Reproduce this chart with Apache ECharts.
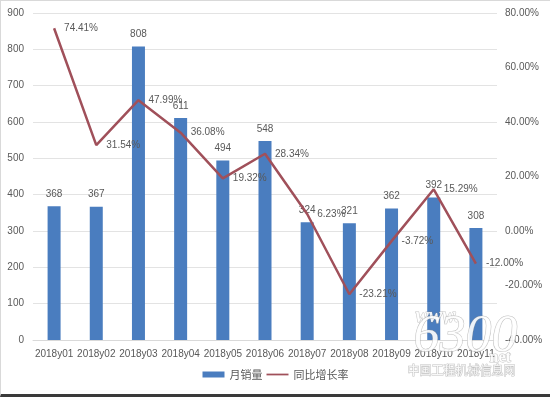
<!DOCTYPE html>
<html>
<head>
<meta charset="utf-8">
<script src="https://cdn.jsdelivr.net/npm/echarts@6/dist/echarts.min.js"></script>
<style>
  html, body { margin: 0; padding: 0; background: #fff; }
  #chart { width: 550px; height: 397px; box-sizing: border-box; border-top: 1px solid #d9d9d9; border-left: 1px solid #d9d9d9; border-bottom: 3px solid #3a3a3a; }
</style>
</head>
<body>
<div id="chart"></div>
<script>
// 月份
const months = ['2018y01', '2018y02', '2018y03', '2018y04', '2018y05', '2018y06',
  '2018y07', '2018y08', '2018y09', '2018y10', '2018y11']
// 月销量
const sales = [368, 367, 808, 611, 494, 548, 324, 321, 362, 392, 308]
// 同比增长率 (%)
const growth = [74.41, 31.54, 47.99, 36.08, 19.32, 28.34, 6.23, -23.21, -3.72, 15.29, -12.00]

const textColor = '#595959'
const font = 'Liberation Sans, Arial, sans-serif'

const chart = echarts.init(document.getElementById('chart'))
chart.setOption({
  animation: false,
  textStyle: { fontFamily: font },
  grid: { left: 32, right: 53, top: 12, bottom: 54 },
  legend: {
    bottom: 9,
    left: 'center',
    itemGap: 4,
    itemWidth: 22,
    itemHeight: 6,
    textStyle: { color: textColor, fontSize: 11, fontFamily: 'Noto Sans CJK SC' },
    data: [
      { name: '月销量', icon: 'rect' },
      { name: '同比增长率', icon: 'path://M0,0 L25,0 L25,2 L0,2 Z' }
    ]
  },
  xAxis: {
    type: 'category',
    data: months,
    axisLine: { lineStyle: { color: '#d9d9d9' } },
    axisTick: { show: false },
    axisLabel: { color: textColor, fontSize: 10, margin: 9, interval: 0 }
  },
  yAxis: [
    {
      type: 'value', min: 0, max: 900, interval: 100,
      axisLine: { show: false }, axisTick: { show: false },
      axisLabel: { color: textColor, fontSize: 10, margin: 9 },
      splitLine: { lineStyle: { color: '#e3e3e3' } }
    },
    {
      type: 'value', min: -40, max: 80, interval: 20,
      axisLine: { show: false }, axisTick: { show: false },
      splitLine: { show: false },
      axisLabel: { color: textColor, fontSize: 10, margin: 8, formatter: v => v.toFixed(2) + '%' }
    }
  ],
  series: [
    {
      name: '月销量', type: 'bar', data: sales, barWidth: 13,
      itemStyle: { color: '#4a7dbf' },
      label: { show: true, position: 'top', color: textColor, fontSize: 10, distance: 7 }
    },
    {
      name: '同比增长率', type: 'line', yAxisIndex: 1, data: growth,
      symbol: 'circle', symbolSize: 0, showSymbol: true,
      lineStyle: { color: '#a0505a', width: 2.5 },
      itemStyle: { color: '#a0505a' },
      label: { show: true, position: 'right', color: textColor, fontSize: 10, distance: 10,
        formatter: p => p.value.toFixed(2) + '%' }
    }
  ],
  graphic: [
    { type: 'text', left: 414, top: 305, z: 100, style: { text: 'www.', fill: 'rgba(255,255,255,0.9)', font: 'bold italic 20px Liberation Serif', stroke: 'rgba(140,140,140,0.5)', lineWidth: 1 } },
    { type: 'text', left: 412, top: 310, z: 100, style: { text: '6300', fill: 'rgba(255,255,255,0.9)', font: 'italic 52px Liberation Serif', stroke: 'rgba(140,140,140,0.55)', lineWidth: 1 } },
    { type: 'text', left: 488, top: 348, z: 100, style: { text: 'net', fill: 'rgba(255,255,255,0.9)', font: 'bold 16px Liberation Serif', stroke: 'rgba(140,140,140,0.5)', lineWidth: 1 } },
    { type: 'text', left: 406, top: 363, z: 100, style: { text: '中国工程机械信息网', fill: 'rgba(255,255,255,0.9)', font: '12px Noto Sans CJK SC', stroke: 'rgba(140,140,140,0.55)', lineWidth: 1 } }
  ]
})
</script>
</body>
</html>
